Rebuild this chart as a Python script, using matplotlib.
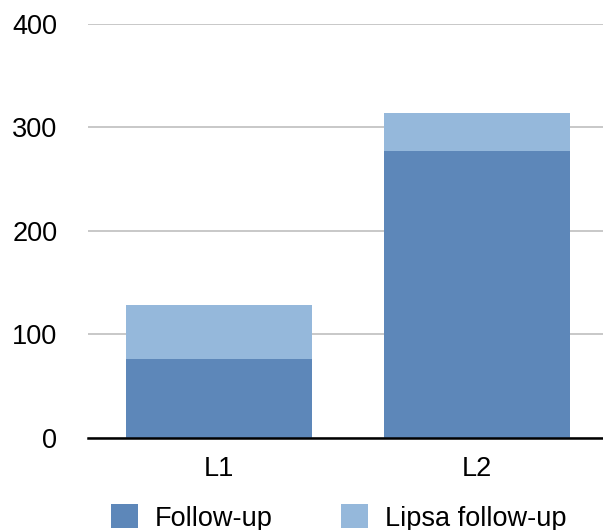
import numpy as np
import matplotlib.pyplot as plt

plt.rcParams['font.family'] = ['Liberation Sans', 'DejaVu Sans']

categories = ['L1', 'L2']
follow_up = [76, 277]
lipsa_follow_up = [52, 37]
yticks = [0, 100, 200, 300, 400]

dark = '#5D87B9'
light = '#95B8DB'

fig = plt.figure(figsize=(6.03, 5.30), dpi=100)
ax = fig.add_axes([88 / 603, 92.5 / 530, 518 / 603, 413.5 / 530])

x = np.arange(len(categories))
width = 0.723
b1 = ax.bar(x, follow_up, width, color=dark, label='Follow-up', zorder=2)
b2 = ax.bar(x, lipsa_follow_up, width, bottom=follow_up, color=light,
            label='Lipsa follow-up', zorder=2)

ax.set_xlim(-0.507, 1.5)
ax.set_ylim(0, 400)
ax.set_yticks(yticks)
ax.set_xticks(x)
ax.set_xticklabels(categories)
ax.yaxis.grid(True, color='#BFBFBF', linewidth=1.2, zorder=0)
ax.set_axisbelow(True)

for s in ['top', 'right', 'left']:
    ax.spines[s].set_visible(False)
ax.spines['bottom'].set_color('black')
ax.spines['bottom'].set_linewidth(1.8)
ax.spines['bottom'].set_zorder(3)

ax.tick_params(axis='y', length=0, pad=22, labelsize=19.5)
ax.tick_params(axis='x', length=0, pad=13, labelsize=19.5)

# legend sits low, partly clipped by the bottom edge like the original
fig.legend(handles=[b1, b2], labels=['Follow-up', 'Lipsa follow-up'],
           loc='upper left', bbox_to_anchor=(103 / 603, 1 - 496 / 530),
           ncol=2, frameon=False, fontsize=19.5, handlelength=1.0,
           handleheight=1.0, handletextpad=0.6, columnspacing=2.55,
           borderaxespad=0, borderpad=0.3)

plt.savefig('out.png', dpi=100)
